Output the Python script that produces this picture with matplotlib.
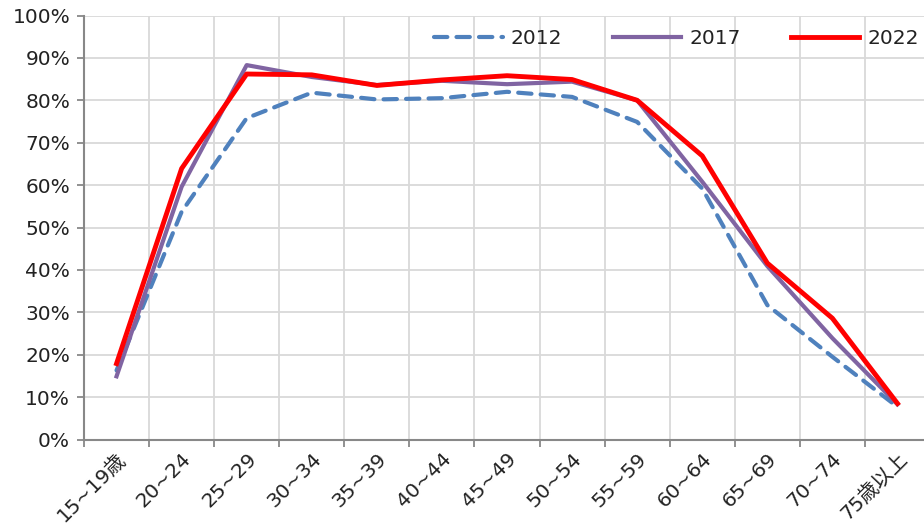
import numpy as np
import matplotlib
matplotlib.use("Agg")
import matplotlib.pyplot as plt

plt.rcParams['font.family'] = ['DejaVu Sans', 'Noto Sans CJK JP']

# 年齢階級別 就業率
age_groups = ["15~19歳", "20~24", "25~29", "30~34", "35~39", "40~44", "45~49",
              "50~54", "55~59", "60~64", "65~69", "70~74", "75歳以上"]
rate_2012 = [16.3, 53.7, 75.8, 81.8, 80.2, 80.5, 82.0, 80.8, 74.9, 59.2, 31.7, 19.5, 7.7]
rate_2017 = [14.9, 59.6, 88.3, 85.5, 83.6, 84.6, 83.8, 84.4, 80.0, 60.8, 40.9, 23.9, 8.3]
rate_2022 = [17.9, 63.9, 86.2, 86.0, 83.5, 84.8, 85.8, 84.9, 80.0, 66.9, 41.6, 28.6, 8.5]

fig = plt.figure(figsize=(9.24, 5.24), dpi=100)
ax = fig.add_axes([84/924, 1 - 439.5/524, 846/924, 424/524])

x = np.arange(len(age_groups))
ax.plot(x, rate_2012, color='#4F81BD', lw=3, ls=(0, (3.2, 2.2)),
        dash_capstyle='round', label='2012', zorder=3)
ax.plot(x, rate_2017, color='#8064A2', lw=3, label='2017', zorder=4)
ax.plot(x, rate_2022, color='#FF0000', lw=3.5, label='2022', zorder=5)

ax.set_xlim(-0.5, len(age_groups) - 0.5)
ax.set_ylim(0, 100)
ax.set_yticks(np.arange(0, 101, 10))
ax.set_yticklabels([f"{v}%" for v in range(0, 101, 10)], fontsize=14.5, color='#222222')

ax.set_xticks(x)
ax.set_xticklabels(age_groups, rotation=45, ha='right', va='top',
                   rotation_mode='anchor', fontsize=14.5, color='#222222')
ax.set_xticks(np.arange(-0.5, len(age_groups)), minor=True)
ax.tick_params(axis='x', which='major', length=0, pad=7)
ax.tick_params(axis='x', which='minor', length=5, width=1.3, color='#888888')
ax.tick_params(axis='y', length=5, width=1.3, color='#888888', pad=5)

ax.grid(True, which='minor', axis='x', color='#d9d9d9', lw=1.3)
ax.grid(True, which='major', axis='y', color='#d9d9d9', lw=1.3)
ax.set_axisbelow(True)

for side in ['top', 'right']:
    ax.spines[side].set_visible(False)
for side in ['left', 'bottom']:
    ax.spines[side].set_color('#888888')
    ax.spines[side].set_linewidth(1.5)

leg = ax.legend(ncol=3, loc='center right', bbox_to_anchor=(919/924, 1 - 39/524),
                bbox_transform=fig.transFigure, frameon=False, fontsize=14.5,
                handlelength=3.4, handletextpad=0.4, columnspacing=2.5,
                borderaxespad=0, borderpad=0)
for t in leg.get_texts():
    t.set_color('#222222')

fig.savefig("out.png", dpi=100)
